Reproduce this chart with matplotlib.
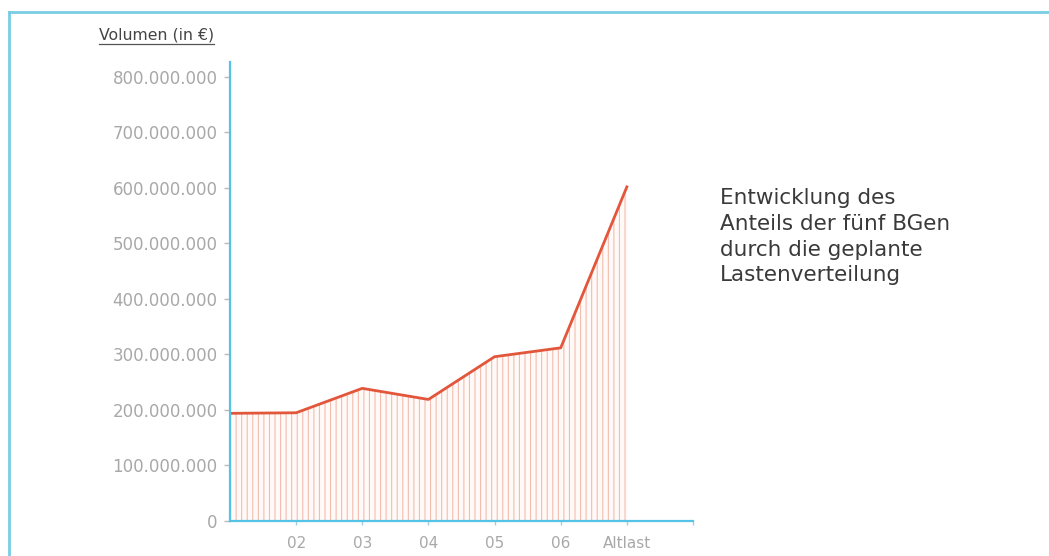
import matplotlib
matplotlib.use("Agg")
import matplotlib.pyplot as plt
from matplotlib.lines import Line2D
from matplotlib.ticker import FuncFormatter

# data (euro volumes)
positions = [1, 2, 3, 4, 5, 6, 7]
volumes = [194e6, 195e6, 239e6, 219e6, 296e6, 312e6, 602e6]
tick_positions = [2, 3, 4, 5, 6, 7, 8]
tick_labels = ["02", "03", "04", "05", "06", "Altlast", ""]
y_ticks = [0, 100e6, 200e6, 300e6, 400e6, 500e6, 600e6, 700e6, 800e6]

y_label = "Volumen (in €)"
note = "Entwicklung des\nAnteils der fünf BGen\ndurch die geplante\nLastenverteilung"

axis_blue = "#55c3e6"
line_red = "#e2563b"
hatch_pink = "#f2bcae"
tick_grey = "#a8a8a8"

plt.rcParams["font.family"] = ["DejaVu Sans"]
plt.rcParams["hatch.linewidth"] = 0.8

W, H = 1049, 556
fig = plt.figure(figsize=(W / 100, H / 100), dpi=100)
ax = fig.add_axes([230 / W, 35 / H, 463 / W, 459 / H])

ax.fill_between(positions, 0, volumes, facecolor="#fffaf8", edgecolor=hatch_pink,
                linewidth=0, hatch="|||")
ax.plot(positions, volumes, color=line_red, linewidth=2.0, solid_joinstyle="round")

ax.set_xlim(1, 8)
ax.set_ylim(0, 827e6)

for side in ("top", "right"):
    ax.spines[side].set_visible(False)
for side in ("left", "bottom"):
    ax.spines[side].set_color(axis_blue)
    ax.spines[side].set_linewidth(1.6)

ax.set_yticks(y_ticks)
ax.yaxis.set_major_formatter(FuncFormatter(lambda v, _: f"{int(v):,}".replace(",", ".")))
ax.tick_params(axis="y", direction="out", length=4, width=1, color="#bbbbbb",
               labelcolor=tick_grey, labelsize=12, pad=5)

ax.set_xticks(tick_positions)
ax.set_xticklabels(tick_labels)
ax.tick_params(axis="x", direction="out", length=3, width=1, color="#9fcfe0",
               labelcolor=tick_grey, labelsize=11, pad=8)

# axis title, underlined
label = fig.text(214 / W, 1 - 40 / H, y_label, ha="right", va="baseline",
                 fontsize=11.3, color="#444444")
fig.canvas.draw()
bb = label.get_window_extent()
fig.add_artist(Line2D([bb.x0 / W, bb.x1 / W], [1 - 44 / H, 1 - 44 / H],
                      color="#555555", linewidth=0.9))

fig.text(720 / W, 1 - 188 / H, note, ha="left", va="top", fontsize=15.5,
         color="#3a3a3a", linespacing=1.36)

# thin frame on top and left edge
fig.add_artist(Line2D([9 / W, 1], [1 - 12 / H, 1 - 12 / H], color="#79cde3", linewidth=2))
fig.add_artist(Line2D([9 / W, 9 / W], [0, 1 - 12 / H], color="#79cde3", linewidth=2))

fig.savefig("out.png", dpi=100, facecolor="white")
